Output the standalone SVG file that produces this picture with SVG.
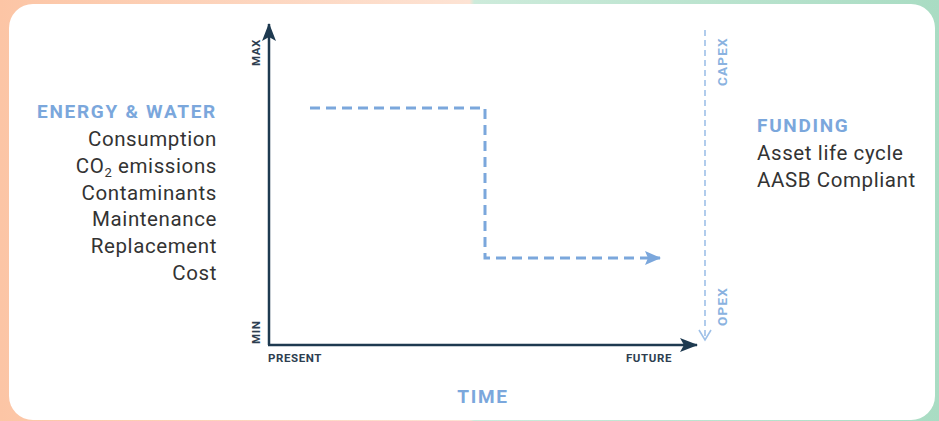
<svg xmlns="http://www.w3.org/2000/svg" width="939" height="421" viewBox="0 0 939 421">
<defs>
<linearGradient id="bg" x1="0" y1="0" x2="1" y2="0">
<stop offset="0" stop-color="#fcc5a5"/>
<stop offset="0.5" stop-color="#fde3d4"/>
<stop offset="0.505" stop-color="#cdebdb"/>
<stop offset="1" stop-color="#a9dcc3"/>
</linearGradient>
<marker id="axisHead2" markerWidth="18" markerHeight="14" refX="17" refY="7" orient="auto" markerUnits="userSpaceOnUse" viewBox="0 0 18 14">
<path d="M0,0 L18,7 L0,14 L4,7 Z" fill="#1e3a50"/>
</marker>
<marker id="dashHead" markerWidth="16" markerHeight="14" refX="15" refY="7" orient="auto" markerUnits="userSpaceOnUse" viewBox="0 0 16 14">
<path d="M0,0 L16,7 L0,14 L3,7 Z" fill="#7ba7dc"/>
</marker>
<marker id="openHead" markerWidth="14" markerHeight="14" refX="12" refY="7" orient="auto" markerUnits="userSpaceOnUse" viewBox="0 0 14 14">
<path d="M2,1 L12,7 L2,13" fill="none" stroke="#9ec0e8" stroke-width="1.6"/>
</marker>
</defs>
<style>
.body{font-family:Roboto,"Noto Sans",sans-serif;font-size:20.5px;letter-spacing:0.6px;fill:#333;}
.head{font-family:Roboto,"Noto Sans",sans-serif;font-size:19px;letter-spacing:1.7px;font-weight:bold;fill:#7ba7dc;}
.axlab{font-family:Roboto,"Noto Sans",sans-serif;font-size:11.5px;letter-spacing:0.6px;font-weight:bold;fill:#2d3e50;}
.cap{font-family:Roboto,"Noto Sans",sans-serif;font-size:13.5px;font-weight:bold;fill:#8ab2e0;letter-spacing:1.2px;}
.axis{stroke:#1e3a50;stroke-width:2.5;fill:none;}
</style>
<rect x="0" y="0" width="939" height="421" fill="url(#bg)"/>
<rect x="9" y="4" width="926" height="416" rx="24" fill="#fff"/>

<g id="connectors">
<line class="axis" x1="269" y1="345" x2="269" y2="24" marker-end="url(#axisHead2)"/>
<line class="axis" x1="268" y1="345" x2="697" y2="345" marker-end="url(#axisHead2)"/>
<path d="M310,108 H485 V258 H660" fill="none" stroke="#7ba7dc" stroke-width="3" stroke-dasharray="10 6" marker-end="url(#dashHead)"/>
<line x1="705" y1="30" x2="705" y2="340" stroke="#9ec0e8" stroke-width="1.6" stroke-dasharray="6 4" marker-end="url(#openHead)"/>
</g>

<g id="axis-labels">
<text class="axlab" transform="translate(260,66) rotate(-90)">MAX</text>
<text class="axlab" transform="translate(260,344) rotate(-90)">MIN</text>
<text class="axlab" x="268" y="362">PRESENT</text>
<text class="axlab" x="672" y="362" text-anchor="end">FUTURE</text>
</g>

<g id="capex-opex">
<text class="cap" transform="translate(727,86) rotate(-90)">CAPEX</text>
<text class="cap" transform="translate(727,326) rotate(-90)">OPEX</text>
</g>

<g id="energy-water">
<text class="head" x="217" y="118" text-anchor="end">ENERGY &amp; WATER</text>
<text class="body" x="217" y="146" text-anchor="end">Consumption</text>
<text class="body" x="217" y="173" text-anchor="end">CO<tspan font-size="13" dy="4">2</tspan><tspan dy="-4"> emissions</tspan></text>
<text class="body" x="217" y="200" text-anchor="end">Contaminants</text>
<text class="body" x="217" y="226" text-anchor="end">Maintenance</text>
<text class="body" x="217" y="253" text-anchor="end">Replacement</text>
<text class="body" x="217" y="280" text-anchor="end">Cost</text>
</g>

<g id="funding">
<text class="head" x="757" y="132">FUNDING</text>
<text class="body" x="757" y="160">Asset life cycle</text>
<text class="body" x="757" y="187">AASB Compliant</text>
</g>

<g id="time">
<text class="head" x="483" y="403" text-anchor="middle" font-size="21" letter-spacing="1">TIME</text>
</g>
</svg>
